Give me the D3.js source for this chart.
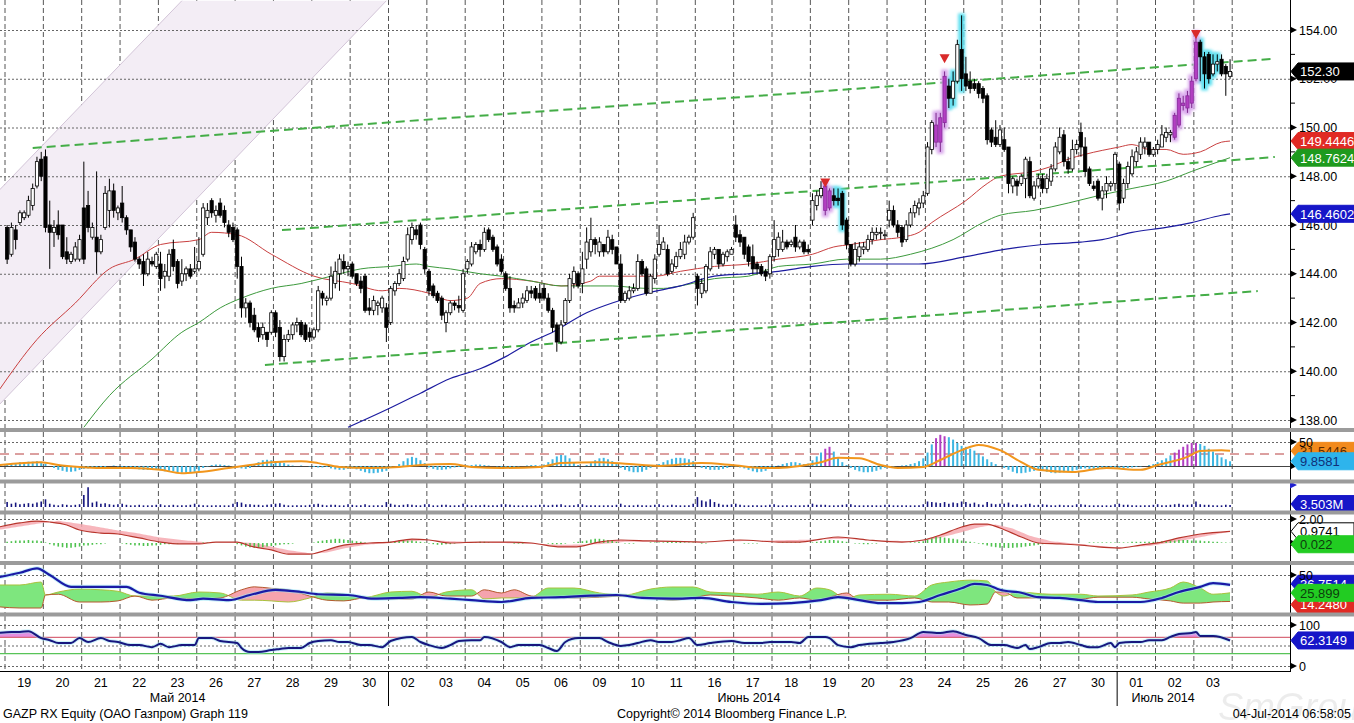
<!DOCTYPE html>
<html>
<head>
<meta charset="utf-8">
<script src="https://cdnjs.cloudflare.com/ajax/libs/d3/7.8.5/d3.min.js"></script>
<style>
  html, body { margin: 0; padding: 0; background: #fff; overflow: hidden; }
  svg { display: block; font-family: "Liberation Sans", Arial, sans-serif; }
</style>
</head>
<body>
<script>
// chart data ----------
const days = ["19","20","21","22","23","26","27","28","29","30",
  "02","03","04","05","06","09","10","11","16","17","18","19","20","23","24","25","26","27","30",
  "01","02","03"];
const monthNames = ["Май 2014", "Июнь 2014", "Июль 2014"];
const monthAt = [4.5, 19.4, 30.2]; // in trading days
const monthBreaks = [10, 29];

// intraday candles, 9 per day: [open, high, low, close]
const ohlc = [
  // May 19
  [145.9,146.0,144.4,144.6],[144.8,146.1,144.7,145.9],[145.8,146.0,145.0,145.4],[146.1,146.6,146.0,146.5],[146.3,146.6,146.2,146.5],[146.4,147.2,146.3,147.0],[146.8,147.7,146.6,147.5],[147.6,148.8,147.5,148.6],[148.7,149.0,147.8,148.0],
  // May 20
  [148.8,149.1,145.7,145.9],[146.0,147.0,144.2,145.7],[145.7,146.2,145.1,145.9],[146.0,146.6,145.4,145.6],[146.0,146.0,144.6,144.7],[144.9,145.5,144.4,144.6],[144.5,144.9,144.4,144.8],[144.6,145.3,144.5,145.1],[144.6,145.6,144.5,145.4],
  // May 21
  [146.7,148.6,144.4,144.6],[146.8,147.4,145.7,145.9],[145.5,146.1,145.4,145.9],[145.5,148.2,144.0,144.9],[144.9,145.6,144.8,145.4],[145.9,147.6,145.8,147.3],[146.6,147.9,145.9,147.4],[147.4,147.7,146.3,146.6],[146.5,146.8,146.2,146.7],
  // May 22
  [146.9,147.6,146.1,146.3],[146.3,146.4,145.6,145.8],[145.8,145.8,144.9,145.1],[145.3,145.5,144.5,144.6],[144.6,144.7,144.2,144.4],[144.5,144.8,143.5,144.0],[144.0,144.9,143.9,144.6],[144.5,144.7,144.3,144.4],[144.3,144.9,144.2,144.8],
  // May 23
  [144.4,144.9,143.3,143.8],[143.9,144.4,143.4,144.1],[143.9,145.0,143.7,144.8],[145.0,145.4,144.1,144.3],[144.5,144.6,143.4,143.6],[143.7,144.6,143.5,144.0],[144.0,144.3,143.7,144.2],[144.2,144.4,143.8,143.9],[144.1,145.1,144.0,144.2],
  // May 26
  [144.2,145.5,144.1,144.5],[144.8,146.9,144.7,146.7],[146.3,146.9,146.0,146.6],[147.0,147.1,146.3,146.5],[146.4,146.8,146.1,146.6],[146.9,147.1,146.3,146.4],[146.6,146.8,145.9,146.1],[146.0,146.2,145.5,145.7],[145.9,146.1,145.3,145.4],
  // May 27
  [145.8,145.9,143.8,144.3],[144.3,144.7,142.2,142.6],[142.6,143.0,142.2,142.8],[142.8,142.9,141.8,142.0],[142.3,142.6,141.6,141.7],[141.8,142.0,141.2,141.4],[141.5,142.0,141.3,141.8],[141.6,141.6,141.0,141.3],[141.6,142.5,141.5,142.4],
  // May 28
  [142.4,142.5,141.4,141.6],[141.8,142.1,140.4,140.6],[140.6,141.5,140.4,141.3],[141.3,141.7,141.2,141.5],[141.5,142.0,141.3,141.9],[141.9,142.2,141.6,142.0],[142.0,142.1,141.4,141.5],[141.9,142.0,141.2,141.3],[141.6,141.8,141.2,141.4],
  // May 29
  [141.4,141.8,141.3,141.7],[141.7,143.5,141.6,143.3],[143.2,143.3,142.7,143.0],[142.9,143.1,142.7,143.0],[143.0,144.3,142.9,143.9],[143.6,144.5,143.4,144.1],[144.0,144.8,143.3,144.6],[144.5,144.8,144.0,144.2],[144.2,144.5,143.9,144.3],
  // May 30
  [144.4,144.5,143.8,143.9],[144.0,144.0,143.5,143.6],[143.7,143.9,143.2,143.4],[143.9,144.0,142.4,142.5],[142.6,143.0,142.3,142.5],[142.5,143.1,142.3,142.9],[142.7,142.9,142.3,142.8],[142.6,143.1,142.4,143.0],[142.6,142.8,141.2,141.8],
  // Jun 02
  [142.0,143.5,141.9,143.4],[143.3,143.7,143.1,143.6],[143.6,144.2,143.5,144.0],[143.8,144.7,143.7,144.5],[144.6,145.9,144.5,145.6],[145.4,146.1,145.2,145.9],[145.8,146.0,145.4,145.6],[146.0,146.1,145.0,145.2],[145.0,145.1,144.0,144.2],
  // Jun 03
  [144.1,144.2,143.1,143.3],[143.5,143.6,143.0,143.1],[143.2,143.3,142.8,142.9],[143.0,143.1,142.1,142.3],[142.0,142.5,141.6,142.4],[142.4,142.9,142.3,142.8],[142.8,142.9,142.5,142.7],[142.7,143.1,142.4,142.6],[142.5,144.2,142.4,144.0],
  // Jun 04
  [144.2,144.6,144.0,144.5],[144.4,145.3,144.3,145.1],[144.9,145.3,144.8,145.2],[145.2,145.4,144.7,145.0],[145.0,145.9,144.9,145.7],[145.8,145.9,145.3,145.4],[145.5,145.6,144.9,145.0],[145.1,145.2,144.3,144.4],[144.6,144.8,144.0,144.1],
  // Jun 05
  [144.0,144.1,143.3,143.4],[143.4,143.9,142.4,142.6],[142.7,142.9,142.4,142.6],[142.6,143.0,142.6,142.8],[142.8,143.2,142.6,143.0],[142.9,143.5,142.8,143.3],[143.3,143.5,143.0,143.2],[143.4,143.5,142.9,143.0],[143.2,143.6,142.8,143.0],
  // Jun 06
  [143.4,143.6,142.9,143.0],[143.0,143.2,142.4,142.5],[142.5,142.6,141.6,141.8],[141.9,142.0,140.8,141.2],[141.2,142.1,141.1,141.9],[142.0,143.0,141.9,142.9],[142.9,144.0,142.8,143.8],[143.6,144.3,143.4,144.1],[144.0,144.1,143.4,143.5],
  // Jun 09
  [143.6,144.9,143.2,144.2],[144.6,145.9,144.2,145.3],[144.9,146.3,144.7,145.4],[145.4,145.5,144.8,145.2],[144.9,145.5,144.7,145.3],[145.2,145.2,144.7,144.9],[144.9,145.8,144.8,145.5],[145.4,145.6,144.8,145.0],[145.1,145.1,144.4,144.4],
  // Jun 10
  [144.4,144.8,142.8,142.9],[142.9,143.3,142.8,143.2],[143.0,143.5,142.9,143.3],[143.3,143.6,143.2,143.4],[143.4,144.8,143.3,144.5],[144.5,144.6,143.9,144.0],[144.2,144.3,143.1,143.2],[143.2,144.0,143.2,143.9],[143.8,144.8,143.6,144.6],
  // Jun 11
  [144.8,146.0,144.7,145.2],[145.0,145.5,145.0,145.3],[145.0,145.2,143.9,144.0],[144.1,144.6,144.0,144.4],[144.3,144.9,144.2,144.7],[144.7,145.3,144.6,145.0],[144.8,145.6,144.6,145.3],[145.3,145.6,145.2,145.5],[145.5,146.5,145.4,146.3],
  // Jun 16
  [143.9,144.0,142.7,143.4],[143.2,143.8,143.0,143.6],[143.3,144.4,143.2,144.3],[144.2,145.1,144.1,144.9],[144.8,145.1,144.6,145.0],[145.0,145.0,144.2,144.4],[144.4,144.9,144.3,144.8],[144.7,145.0,144.5,144.9],[144.8,145.1,144.8,145.0],
  // Jun 17
  [146.0,146.4,145.3,145.5],[145.6,145.8,145.1,145.3],[145.5,145.5,144.6,144.8],[145.1,145.2,144.3,144.5],[144.7,145.2,144.0,144.2],[144.4,144.5,144.0,144.2],[144.3,144.4,143.9,144.0],[144.1,144.2,143.7,143.9],[144.0,144.8,143.8,144.7],
  // Jun 18
  [144.7,146.2,144.5,145.4],[145.0,145.7,144.7,145.5],[145.0,145.8,144.9,145.3],[145.3,145.4,145.0,145.1],[145.2,145.4,145.1,145.3],[145.5,146.0,144.9,145.1],[145.1,145.4,145.0,145.3],[145.3,145.4,144.8,144.9],[145.0,145.2,144.8,144.9],
  // Jun 19
  [146.2,147.3,146.0,147.0],[146.8,147.4,146.6,147.2],[147.2,147.8,147.1,147.5],[147.6,147.7,146.4,146.6],[147.4,147.5,146.6,146.7],[147.2,147.5,146.8,147.0],[147.1,147.5,146.8,147.0],[147.3,147.4,145.8,146.0],[146.2,146.3,145.0,145.2],
  // Jun 20
  [145.2,145.2,144.3,144.4],[144.4,145.3,144.3,145.0],[144.7,145.3,144.5,145.1],[145.0,145.3,144.8,145.1],[145.0,145.6,144.9,145.4],[145.4,145.9,145.2,145.7],[145.6,145.9,145.4,145.7],[145.7,145.9,145.4,145.7],[145.6,145.8,145.4,145.6],
  // Jun 23
  [146.2,147.0,145.9,146.6],[146.6,146.8,145.9,146.0],[146.0,146.2,145.5,145.7],[145.9,146.0,145.1,145.3],[145.4,146.2,145.3,146.0],[146.0,146.7,145.9,146.5],[146.5,147.0,146.3,146.8],[146.7,147.1,146.4,146.9],[146.9,147.4,146.7,147.2],
  // Jun 24
  [147.3,149.4,147.2,149.2],[149.1,150.3,148.9,150.2],[150.1,150.6,149.2,149.4],[149.4,150.6,149.0,150.4],[150.2,152.3,150.0,152.1],[151.7,152.0,150.8,151.2],[151.2,152.3,150.9,151.9],[151.9,153.6,151.8,153.4],[153.2,154.6,151.5,152.0],
  // Jun 25
  [152.2,152.9,151.5,151.7],[151.9,152.3,151.4,151.6],[151.8,152.0,151.5,151.6],[151.8,151.9,151.2,151.4],[151.6,151.7,151.0,151.2],[151.3,151.4,149.3,149.5],[149.9,150.0,149.2,149.4],[149.6,150.3,149.2,149.3],[149.3,150.1,149.2,149.9],
  // Jun 26
  [149.5,150.0,149.0,149.1],[149.2,149.2,147.3,147.7],[147.6,148.0,147.3,147.9],[147.8,147.9,147.2,147.6],[147.7,148.1,147.6,148.0],[147.9,148.8,147.1,148.7],[148.6,148.8,147.1,147.2],[147.1,147.8,147.0,147.6],[147.6,148.1,147.5,147.9],
  // Jun 27
  [147.9,148.1,147.3,147.5],[147.5,148.1,147.3,147.9],[147.8,148.5,147.6,148.3],[148.3,149.4,148.2,149.2],[149.0,150.0,148.9,149.6],[149.7,149.9,148.4,148.6],[148.6,148.8,148.1,148.3],[148.3,149.5,148.2,149.1],[149.1,149.5,148.9,149.3],
  // Jun 30
  [149.8,150.2,148.8,149.2],[149.2,149.6,148.0,148.2],[148.3,148.4,147.6,147.7],[147.6,147.8,147.4,147.5],[147.8,147.9,147.0,147.1],[147.1,147.6,146.6,147.4],[147.4,148.0,147.1,147.7],[147.6,147.8,147.4,147.7],[147.7,149.0,147.4,148.9],
  // Jul 01
  [148.5,148.6,146.6,146.9],[147.1,147.9,146.9,147.7],[147.7,148.6,147.5,148.4],[148.1,149.1,148.0,148.8],[148.6,149.2,148.4,149.0],[148.9,149.6,148.7,149.4],[149.2,149.6,148.9,149.4],[149.4,149.4,148.8,148.9],[148.9,149.2,148.8,149.1],
  // Jul 02
  [149.1,149.5,148.9,149.3],[149.2,150.1,149.2,149.7],[149.6,150.0,149.4,149.8],[149.7,149.9,149.4,149.8],[149.6,150.6,149.5,150.5],[150.1,151.4,150.0,151.2],[151.0,151.3,150.7,150.9],[150.8,151.5,150.6,151.3],[151.0,152.1,150.8,151.9],
  // Jul 03
  [152.0,153.9,151.9,153.5],[153.5,153.6,151.9,152.9],[152.9,153.1,151.6,152.2],[153.0,153.1,151.8,152.0],[152.2,153.0,152.1,152.6],[152.6,153.0,152.3,152.7],[152.8,153.0,152.1,152.2],[152.5,152.6,151.3,152.2],[152.1,152.8,152.0,152.3],
];

// highlighted candles (candle index)
const magentaBars = [192, 193, 218, 219, 220, 274, 275, 276, 277, 278, 279];
const cyanBars = [194, 195, 196, 221, 222, 224, 280, 281, 282, 283, 284];
const signalMarks = [[192, 147.7], [220, 152.8], [279, 153.8]];

// moving averages: [candle index, price]
const maRed = [[-2,139.2],[7,141.3],[16,142.8],[24,144.2],[30,144.6],[36,145.2],[45,145.4],[48,145.7],[54,145.6],[62,144.8],[72,143.9],[81,143.6],[88,143.3],[92,143.4],[99,143.2],[104,142.9],[108,143.0],[111,143.6],[116,143.8],[123,143.7],[130,143.5],[137,143.7],[139,143.9],[144,143.9],[152,143.9],[158,144.1],[166,144.3],[174,144.4],[181,144.6],[189,144.8],[194,145.1],[198,145.2],[205,145.4],[210,145.5],[214,145.7],[217,146.1],[225,147.0],[230,147.7],[233,148.0],[241,148.2],[245,148.4],[249,148.7],[253,148.9],[261,149.2],[264,149.3],[268,149.1],[272,149.1],[276,148.9],[280,149.0],[285,149.4],[287,149.4446]];
const maGreen = [[18,137.7],[24,139.0],[34,140.5],[41,141.6],[45,142.0],[50,142.6],[55,143.0],[62,143.4],[69,143.6],[76,143.9],[83,144.2],[90,144.3],[96,144.4],[99,144.3],[104,144.2],[111,144.0],[116,143.9],[123,143.7],[130,143.5],[137,143.5],[142,143.5],[150,143.4],[154,143.4],[158,143.5],[166,143.8],[174,143.9],[181,144.3],[189,144.4],[197,144.6],[205,144.6],[212,144.8],[222,145.4],[229,146.1],[233,146.4],[241,146.6],[249,146.9],[256,147.2],[264,147.5],[272,147.8],[278,148.2],[287,148.7624]];
const maBlue = [[80,137.7],[90,138.5],[97,139.1],[104,139.7],[111,140.1],[117,140.6],[123,141.2],[128,141.6],[136,142.4],[142,142.8],[150,143.2],[158,143.5],[166,143.9],[174,144.0],[181,144.1],[189,144.3],[197,144.4],[205,144.4],[214,144.4],[225,144.7],[234,145.0],[243,145.2],[252,145.3],[257,145.4],[264,145.7],[272,145.9],[278,146.1],[285,146.4],[287,146.4602]];

// drawn trend lines and channel: [candle index, price]
const trendLines = [
  [[6, 149.16], [296.5, 152.81]],
  [[64.5, 145.79], [297.5, 148.79]],
  [[60.5, 140.26], [293.5, 143.29]],
];
const channelLines = [
  [[-2, 147.4], [41, 155.2]],
  [[-2, 138.6], [89, 155.2]],
];

// oscillator histogram (per candle) and its average
const oscHist = [
  4,6,6,8,8,9,9,10,8,  5,0,-4,-8,-10,-12,-12,-11,-8,  -6,-5,-3,-6,-4,-2,0,1,-1,  -2,-3,-4,-6,-7,-8,-8,-7,-7,
  -9,-11,-10,-11,-13,-14,-14,-13,-12,  -10,-4,-1,2,3,3,2,1,-1,  -3,-5,-6,-4,2,8,12,13,12,  10,8,6,3,1,0,1,0,-1,
  -2,-3,-3,-2,-5,-7,-8,-8,-6,  -5,-7,-10,-13,-15,-15,-14,-12,-10,  -4,0,4,10,16,19,17,12,6,  -3,-6,-8,-8,-7,-5,-3,-2,0,
  1,2,3,3,2,1,0,-1,-2,  -2,-3,-2,-1,0,1,2,2,1,  3,8,14,20,23,22,16,8,2,  0,2,6,12,16,17,14,10,4,
  -4,-8,-11,-13,-13,-12,-8,-4,0,  4,8,12,15,17,17,16,14,10,  0,-4,-6,-8,-8,-8,-6,-4,-1,  -1,-3,-5,-8,-11,-13,-12,-10,-6,
  -2,1,4,6,8,8,6,4,5,  12,20,28,36,40,30,18,8,2,  -4,-8,-11,-13,-13,-12,-10,-7,-4,  -2,-1,0,1,2,4,6,10,16,
  28,45,58,65,62,60,55,48,42,  40,36,32,26,20,14,8,4,0,  -4,-8,-12,-15,-15,-14,-12,-10,-8,  -10,-12,-14,-15,-14,-13,-12,-10,-8,
  -6,-5,-6,-7,-7,-6,-5,-4,-3,  -4,-5,-4,-3,-2,-1,0,2,4,  8,12,16,22,28,34,40,45,48,  48,46,42,36,30,24,18,14,9.86,
];
const oscLine = [[-2,2],[8,8],[12,2],[17,-2],[22,-4],[29,-4],[36,-8],[41,-15],[45,-12.5],[52,-4],[57,2],[62,8],[69,10],[73,6],[78,-2],[85,-4],[92,-2],[97,2],[104,4],[109,-2],[116,-4],[125,-2],[130,6],[139,8],[146,4],[153,0],[163,6],[170,2],[177,-4],[181,-4],[186,0],[191,8],[195,17],[200,16],[205,2],[209,-4],[215,-2],[219,12.5],[224,33],[228,44],[233,33],[238,8],[242,-8],[250,-12.5],[258,-4],[266,-8],[270,2],[277,19],[280,31],[285,33],[287,31.54]];

// volume, millions per candle
const volume = [
  9,6,8,5,6,7,6,8,10,  14,6,4,3,5,4,3,4,5,  22,36,8,10,6,7,5,4,5,  6,4,3,3,4,3,3,3,4,
  5,3,3,4,3,3,3,4,6,  4,3,3,3,3,3,3,3,6,  9,8,5,5,4,4,3,4,5,  6,7,4,3,3,3,3,3,4,
  5,6,4,3,4,4,3,3,5,  4,3,3,5,3,3,3,3,9,  6,4,3,4,5,4,3,3,5,  5,3,3,4,4,3,3,3,6,
  4,3,3,3,4,3,3,3,5,  5,4,3,3,3,3,3,3,4,  4,3,4,4,5,3,3,3,5,  5,3,3,3,3,3,3,3,4,
  6,3,3,3,4,3,3,3,4,  5,3,3,4,3,3,3,3,6,  18,12,10,14,9,6,4,4,5,  6,4,3,3,3,3,3,3,4,
  5,3,3,3,3,3,3,3,4,  6,4,4,4,3,3,3,4,5,  5,3,3,3,3,3,3,3,4,  4,3,3,3,3,3,3,3,5,
  10,9,8,7,9,6,8,7,10,  9,6,8,5,4,9,6,5,6,  6,8,4,5,3,5,6,3,4,  5,4,3,3,4,3,3,3,5,
  5,4,3,3,3,3,3,3,5,  6,4,4,3,3,3,3,3,4,  5,3,3,4,5,6,4,4,5,  10,5,4,4,3,3,3,4,3.503,
];

// MACD-style panel
const macdLine = [[-2,1.33],[3,1.67],[7,1.83],[10,1.75],[14,1.5],[17,1.08],[22,0.83],[26,0.75],[31,0.42],[36,0.08],[41,-0.08],[45,-0.08],[49,0.08],[54,0.08],[57,-0.25],[62,-0.58],[66,-0.92],[71,-0.92],[75,-0.58],[79,-0.17],[85,0],[90,0.08],[95,0.33],[99,0.25],[104,0],[111,0.08],[118,0.08],[123,0],[130,-0.33],[133,-0.33],[139,0.08],[144,0.25],[151,0.17],[163,0.08],[172,0.25],[181,0.08],[186,0.08],[191,0.33],[195,0.5],[202,0.25],[210,0.08],[215,0.25],[219,0.67],[224,1.33],[227,1.58],[230,1.58],[233,1.25],[238,0.5],[242,0],[247,-0.08],[252,-0.17],[256,-0.33],[261,-0.42],[266,-0.17],[271,0.08],[275,0.42],[280,0.75],[287,0.9741]];
const macdSignal = [[-2,1.1],[7,1.6],[12,1.85],[17,1.6],[22,1.3],[26,1.05],[30,0.85],[36,0.45],[45,0.1],[50,0.05],[55,0.05],[58,0],[62,-0.3],[66,-0.6],[71,-0.85],[75,-0.8],[79,-0.45],[84,-0.15],[90,0],[95,0.15],[99,0.25],[104,0.15],[112,0.05],[130,-0.15],[139,-0.1],[145,0.1],[165,0.1],[197,0.35],[205,0.2],[214,0.15],[218,0.35],[224,0.9],[228,1.3],[232,1.55],[236,1.2],[240,0.6],[245,0.15],[252,-0.1],[260,-0.35],[268,-0.25],[275,0.15],[281,0.55],[287,0.95]];
const macdHist = [
  0.1,0.15,0.2,0.2,0.2,0.25,0.2,0.2,0.15,  0.05,-0.1,-0.2,-0.3,-0.35,-0.4,-0.4,-0.35,-0.3,  -0.2,-0.2,-0.15,-0.1,-0.1,-0.05,0,0,0,  -0.05,-0.1,-0.15,-0.2,-0.2,-0.25,-0.25,-0.2,-0.2,
  -0.15,-0.1,-0.1,-0.05,-0.05,0,0,0,0,  0,0.05,0.05,0.05,0,0,0,0,0,  -0.1,-0.2,-0.3,-0.35,-0.4,-0.4,-0.35,-0.3,-0.25,  -0.2,-0.15,-0.1,-0.1,-0.05,0,0,0,0,
  0.05,0.15,0.2,0.25,0.3,0.35,0.35,0.3,0.25,  0.2,0.15,0.1,0.05,0,0,0,0,0.05,  0.1,0.15,0.2,0.25,0.2,0.2,0.15,0.1,0.05,  -0.05,-0.1,-0.15,-0.15,-0.1,-0.1,-0.05,0,0,
  0,0.05,0.05,0.1,0.1,0.05,0,0,0,  0,0,-0.05,-0.05,-0.05,0,0,0,0,  0,-0.05,-0.1,-0.1,-0.1,-0.05,0,0.05,0.1,  0.15,0.2,0.3,0.35,0.35,0.3,0.25,0.2,0.1,
  0,-0.05,-0.05,-0.05,0,0,0,0.05,0.05,  0.05,0.05,0.1,0.1,0.1,0.1,0.05,0.05,0.05,  0,-0.05,-0.05,0,0,0,0,0,0,  0,0,-0.05,-0.05,-0.05,-0.05,0,0,0,
  0,0,0.05,0.05,0.05,0.05,0.05,0,0,  0.05,0.1,0.15,0.2,0.25,0.25,0.2,0.15,0.1,  0,-0.05,-0.05,-0.1,-0.1,-0.05,-0.05,0,0,  0,0,0,0,0,0.05,0.05,0.1,0.15,
  0.3,0.4,0.5,0.5,0.45,0.4,0.35,0.3,0.2,  0.15,0.1,0.05,-0.05,-0.1,-0.2,-0.3,-0.35,-0.4,  -0.4,-0.42,-0.4,-0.38,-0.35,-0.3,-0.25,-0.2,-0.15,  -0.1,-0.05,0,0,0,0,0,0,0,
  0,0,0.05,0.05,0.05,0.05,0.05,0.05,0.05,  0.05,0.05,0.05,0.1,0.1,0.1,0.1,0.1,0.1,  0.1,0.15,0.15,0.2,0.2,0.25,0.25,0.25,0.2,  0.2,0.2,0.15,0.15,0.1,0.1,0.05,0.05,0.022,
];

// directional movement: ADX and [index, DI+, DI-]
const adx = [[-2,47],[3,53],[7,59],[10,50],[15,34],[22,34],[28,34],[31,26],[36,22],[43,16],[46,18],[52,16],[57,23],[63,30],[69,27],[73,24],[80,23],[86,18],[92,19],[97,20],[104,18],[109,16],[116,13.5],[123,19],[130,20],[137,22],[143,23],[149,19],[156,18],[163,19],[170,13.5],[177,11],[184,12],[191,16],[195,20],[200,16],[205,12],[210,12],[214,13.5],[219,23],[224,32],[227,38],[230,36.5],[233,30],[238,26],[242,20],[247,19],[252,16],[256,13.5],[261,13.5],[266,13.5],[271,19],[275,27],[280,34],[283,39],[287,36.7514]];
const diLines = [[-2,36.5,7],[3,36.5,5.4],[8,40.5,5.4],[9,23,23],[12,27,24],[17,31,13.5],[22,30,13.5],[26,28,15],[30,21.6,21.6],[34,21.6,16],[39,21.6,19],[45,27,17.6],[50,25.7,19],[55,16,30],[58,16,34],[62,15,32],[66,13.5,30],[71,19,21.6],[75,25.7,16],[79,24,15],[84,20,19],[90,27,17.6],[95,28,17.6],[99,20,27],[103,27,21.6],[109,30,21.6],[112,17.6,30],[116,19,25.7],[119,19,30],[123,20,21.6],[127,32.4,20],[133,32.4,19],[139,25.7,20],[145,23,21.6],[151,31,19],[156,33.8,16],[161,33.8,19],[165,27,23],[170,25.7,21.6],[176,24,19],[181,27,16],[186,21.6,19],[190,32.4,16],[193,30,20],[197,17.6,25.7],[200,23,16],[207,24,16],[213,21.6,19],[217,36.5,13.5],[221,40.5,13.5],[226,43,9.5],[230,42,10.8],[232,27,27],[234,21.6,27],[237,27,19],[245,24,19],[252,24,17.6],[256,21.6,20],[264,23,20],[268,27,17.6],[273,32.4,15],[276,40.5,12],[280,32.4,12],[283,24,13.5],[287,25.899,14.248]];

// RSI
const rsi = [[-2,80.5],[1,83],[3,83],[5,85],[8,68],[10,63],[12,56],[15,56],[17,68],[19,58.5],[22,68],[24,61],[26,58.5],[29,51],[31,51],[34,46],[36,54],[38,46],[41,51],[44,51],[45,68],[48,68],[50,61],[54,56],[55,44],[57,34],[59,34],[62,39],[64,41.5],[66,44],[69,44],[71,56],[73,61],[76,63],[78,58.5],[80,58.5],[83,51],[85,51],[88,46],[90,61],[95,71],[97,58.5],[99,51],[102,44],[104,51],[106,61],[109,63],[111,63],[112,71],[116,58.5],[118,46],[120,51],[125,51],[127,44],[129,36.5],[131,58.5],[134,68],[139,68],[141,58.5],[144,49],[146,51],[148,56],[151,63],[153,58.5],[156,58.5],[158,63],[160,68],[162,51],[165,56],[170,61],[173,56],[177,56],[179,58.5],[184,58.5],[186,56],[188,71],[192,71],[193,68],[195,51],[198,46],[200,51],[205,56],[208,58.5],[212,68],[215,83],[219,80.5],[222,85],[225,75.6],[228,68],[231,51],[234,51],[237,44],[239,51],[240,41.5],[242,46],[245,56],[247,56],[249,58.5],[252,51],[254,46],[256,46],[259,56],[260,46],[261,56],[264,58.5],[266,58.5],[268,63],[271,63],[273,71],[275,78],[278,80.5],[279,83],[280,73],[283,73],[287,62.3149]];

// last values shown on the right
const priceLast = ["152.30", "149.4446", "148.7624", "146.4602"];
const oscLast = ["31.5446", "9.8581"];
const volLast = "3.503M";
const macdLast = ["0.9741", "0.022"];
const dmiLast = ["36.7514", "14.2480", "25.899"];
const rsiLast = "62.3149";
const footer = ["GAZP RX Equity (ОАО Газпром) Graph 119", "Copyright© 2014 Bloomberg Finance L.P.", "04-Jul-2014 06:58:05"];
// ----------

const W = 1354;
const H = 723;
const axisX = 1290;
const n = ohlc.length;

const x = d3.scaleLinear().domain([-0.5, n - 0.5]).range([5, 5 + 38.35 * days.length]);
const dayX = (k) => x(k * 9 - 0.5);
const monthX = (d) => 5 + 38.35 * d;

const panels = {
  price: { top: 0, bottom: 428, y: d3.scaleLinear().domain([138, 154]).range([420, 30]) },
  osc: { top: 432, bottom: 480, y: d3.scaleLinear().domain([0, 50]).range([466, 442]) },
  vol: { top: 483, bottom: 511, y: d3.scaleLinear().domain([0, 40]).range([507, 485]) },
  macd: { top: 514, bottom: 562, y: d3.scaleLinear().domain([0, 2]).range([543, 519]) },
  dmi: { top: 564, bottom: 613, y: d3.scaleLinear().domain([0, 50]).range([612, 575]) },
  rsi: { top: 616, bottom: 671, y: d3.scaleLinear().domain([0, 100]).range([666, 625]) },
};
const separators = [428, 479.5, 510.5, 561, 612.5];

const svg = d3.select("body").append("svg").attr("width", W).attr("height", H);
svg.append("rect").attr("width", W).attr("height", H).attr("fill", "#fff");
const defs = svg.append("defs");

Object.entries(panels).forEach(([key, p]) => {
  defs.append("clipPath").attr("id", `clip-${key}`)
    .append("rect").attr("x", 0).attr("y", p.top).attr("width", axisX).attr("height", p.bottom - p.top);
});
const glow = defs.append("filter").attr("id", "glow")
  .attr("x", "-150%").attr("y", "-30%").attr("width", "400%").attr("height", "160%");
glow.append("feGaussianBlur").attr("stdDeviation", 1.4);

// piecewise sampler for the smooth series
const sampler = (pairs, k = 1) => d3.scaleLinear()
  .domain(pairs.map((d) => d[0])).range(pairs.map((d) => d[k])).clamp(true);
const lineOf = (y, k = 1) => d3.line().x((d) => x(d[0])).y((d) => y(d[k])).curve(d3.curveMonotoneX);

// grid for each panel
const gridG = svg.append("g");
Object.entries(panels).forEach(([key, p]) => {
  const g = gridG.append("g").attr("clip-path", `url(#clip-${key})`);
  g.selectAll("line.v").data(d3.range(0, days.length + 1)).join("line")
    .attr("x1", (k) => dayX(k)).attr("x2", (k) => dayX(k))
    .attr("y1", p.top).attr("y2", p.bottom)
    .attr("stroke", "#555").attr("stroke-width", 1).attr("stroke-dasharray", "5,3");
});
// ----------

// price panel
const py = panels.price.y;
const pg = svg.append("g").attr("clip-path", "url(#clip-price)");

const [cu, cl] = channelLines;
pg.append("path")
  .attr("d", `M${x(cu[0][0])},${py(cu[0][1])}L${x(cu[1][0])},${py(cu[1][1])}L${x(cl[1][0])},${py(cl[1][1])}L${x(cl[0][0])},${py(cl[0][1])}Z`)
  .attr("fill", "#f3edf5");
pg.selectAll("line.chan").data(channelLines).join("line")
  .attr("x1", (d) => x(d[0][0])).attr("y1", (d) => py(d[0][1]))
  .attr("x2", (d) => x(d[1][0])).attr("y2", (d) => py(d[1][1]))
  .attr("stroke", "#d2c4d7").attr("stroke-width", 1);

pg.selectAll("line.h").data(d3.range(138, 155, 2)).join("line")
  .attr("x1", 0).attr("x2", axisX).attr("y1", (d) => py(d) + 0.5).attr("y2", (d) => py(d) + 0.5)
  .attr("stroke", "#666").attr("stroke-dasharray", "2,2");

// moving averages
[[maRed, "#c94040", 1], [maGreen, "#3d9a3d", 1], [maBlue, "#1c1ca0", 1.2]].forEach(([d, c, w]) => {
  pg.append("path").datum(d).attr("d", lineOf(py)).attr("fill", "none").attr("stroke", c).attr("stroke-width", w);
});

// trend lines
pg.selectAll("line.trend").data(trendLines).join("line")
  .attr("x1", (d) => x(d[0][0])).attr("y1", (d) => py(d[0][1]))
  .attr("x2", (d) => x(d[1][0])).attr("y2", (d) => py(d[1][1]))
  .attr("stroke", "#44ad47").attr("stroke-width", 2).attr("stroke-dasharray", "9,5");

// candles
const magentaSet = new Set(magentaBars);
pg.selectAll("rect.cglow").data(cyanBars).join("rect")
  .attr("x", (i) => x(i) - 3.5).attr("width", 7)
  .attr("y", (i) => py(ohlc[i][1]) - 2)
  .attr("height", (i) => py(ohlc[i][2]) - py(ohlc[i][1]) + 4)
  .attr("fill", "#5fe0f0").attr("filter", "url(#glow)");
pg.selectAll("rect.mglow").data(magentaBars).join("rect")
  .attr("x", (i) => x(i) - 3.5).attr("width", 7)
  .attr("y", (i) => py(ohlc[i][1]) - 2)
  .attr("height", (i) => py(ohlc[i][2]) - py(ohlc[i][1]) + 4)
  .attr("fill", "#d9a8ec").attr("filter", "url(#glow)");

const candles = pg.selectAll("g.candle").data(ohlc).join("g").attr("class", "candle");
candles.append("line")
  .attr("x1", (d, i) => x(i)).attr("x2", (d, i) => x(i))
  .attr("y1", (d) => py(d[1])).attr("y2", (d) => py(d[2]))
  .attr("stroke", (d, i) => (magentaSet.has(i) ? "#7d2a8c" : "#000")).attr("stroke-width", 1);
candles.append("rect")
  .attr("x", (d, i) => x(i) - 1.6).attr("width", 3.2)
  .attr("y", (d) => py(Math.max(d[0], d[3])))
  .attr("height", (d) => Math.max(1, Math.abs(py(d[0]) - py(d[3]))))
  .attr("fill", (d, i) => (magentaSet.has(i) ? "#b23fc2" : d[3] >= d[0] ? "#fff" : "#000"))
  .attr("stroke", (d, i) => (magentaSet.has(i) ? "#8a2a9c" : "#000")).attr("stroke-width", 0.8);

pg.selectAll("path.mark").data(signalMarks).join("path")
  .attr("d", (d) => { const cx = x(d[0]), cy = py(d[1]); return `M${cx - 5},${cy - 5}L${cx + 5},${cy - 5}L${cx},${cy + 4}Z`; })
  .attr("fill", "#d92a2a");
// ----------

// oscillator panel
const op = panels.osc;
const og = svg.append("g").attr("clip-path", "url(#clip-osc)");
og.append("line").attr("x1", 0).attr("x2", axisX).attr("y1", op.y(50) + 0.5).attr("y2", op.y(50) + 0.5)
  .attr("stroke", "#666").attr("stroke-dasharray", "2,2");
og.append("line").attr("x1", 0).attr("x2", axisX).attr("y1", op.y(25)).attr("y2", op.y(25))
  .attr("stroke", "#b84040").attr("stroke-dasharray", "9,6");
og.append("line").attr("x1", 0).attr("x2", axisX).attr("y1", op.y(0) + 0.5).attr("y2", op.y(0) + 0.5)
  .attr("stroke", "#444");
og.selectAll("line.bar").data(oscHist).join("line")
  .attr("x1", (d, i) => x(i)).attr("x2", (d, i) => x(i))
  .attr("y1", op.y(0)).attr("y2", (d) => op.y(d))
  .attr("stroke", (d, i) => (magentaSet.has(i) ? "#b23fc2" : "#3cb6e2")).attr("stroke-width", 2);
og.append("path").datum(oscLine).attr("d", lineOf(op.y)).attr("fill", "none")
  .attr("stroke", "#f2961c").attr("stroke-width", 2);
// ----------

// volume panel
const vp = panels.vol;
const vg = svg.append("g").attr("clip-path", "url(#clip-vol)");
vg.selectAll("line.bar").data(volume).join("line")
  .attr("x1", (d, i) => x(i)).attr("x2", (d, i) => x(i))
  .attr("y1", vp.y(0)).attr("y2", (d) => vp.y(d))
  .attr("stroke", "#15157e").attr("stroke-width", 1.6);
// ----------

// macd panel
const mp = panels.macd;
const mg = svg.append("g").attr("clip-path", "url(#clip-macd)");
mg.append("line").attr("x1", 0).attr("x2", axisX).attr("y1", mp.y(2) + 0.5).attr("y2", mp.y(2) + 0.5)
  .attr("stroke", "#666").attr("stroke-dasharray", "2,2");
const macdS = sampler(macdLine);
const sigS = sampler(macdSignal);
const dense = d3.range(-2, n - 0.5, 0.5);
mg.append("path").datum(dense)
  .attr("d", d3.area().x((i) => x(i)).y0((i) => mp.y(sigS(i))).y1((i) => mp.y(macdS(i))))
  .attr("fill", "#f6a9b0").attr("opacity", 0.85);
mg.selectAll("line.bar").data(macdHist).join("line")
  .attr("x1", (d, i) => x(i)).attr("x2", (d, i) => x(i))
  .attr("y1", mp.y(0)).attr("y2", (d) => mp.y(d))
  .attr("stroke", "#4fc24f").attr("stroke-width", 1.6);
mg.append("path").datum(macdLine).attr("d", lineOf(mp.y)).attr("fill", "none")
  .attr("stroke", "#b8352c").attr("stroke-width", 1.2);
// ----------

// dmi panel
const dp = panels.dmi;
const dg = svg.append("g").attr("clip-path", "url(#clip-dmi)");
dg.append("line").attr("x1", 0).attr("x2", axisX).attr("y1", dp.y(50) + 0.5).attr("y2", dp.y(50) + 0.5)
  .attr("stroke", "#666").attr("stroke-dasharray", "2,2");
const curve = d3.curveMonotoneX;
defs.append("clipPath").attr("id", "di-below").append("path")
  .attr("d", d3.area().curve(curve).x((d) => x(d[0])).y0(dp.bottom).y1((d) => dp.y(d[1]))(diLines));
defs.append("clipPath").attr("id", "di-above").append("path")
  .attr("d", d3.area().curve(curve).x((d) => x(d[0])).y0(dp.top).y1((d) => dp.y(d[1]))(diLines));
dg.append("path").attr("clip-path", "url(#di-below)")
  .attr("d", d3.area().curve(curve).x((d) => x(d[0])).y0(dp.top).y1((d) => dp.y(d[2]))(diLines))
  .attr("fill", "#7ee67e");
dg.append("path").attr("clip-path", "url(#di-above)")
  .attr("d", d3.area().curve(curve).x((d) => x(d[0])).y0(dp.bottom).y1((d) => dp.y(d[2]))(diLines))
  .attr("fill", "#f5a3ad");
dg.append("path").datum(diLines).attr("d", lineOf(dp.y, 1)).attr("fill", "none")
  .attr("stroke", "#a9c23c").attr("stroke-width", 1);
dg.append("path").datum(diLines).attr("d", lineOf(dp.y, 2)).attr("fill", "none")
  .attr("stroke", "#b5592e").attr("stroke-width", 1);
dg.append("path").datum(adx).attr("d", lineOf(dp.y)).attr("fill", "none")
  .attr("stroke", "#9ee6f5").attr("stroke-width", 4).attr("opacity", 0.6);
dg.append("path").datum(adx).attr("d", lineOf(dp.y)).attr("fill", "none")
  .attr("stroke", "#1a1aa6").attr("stroke-width", 2.2);
// ----------

// rsi panel
const rp = panels.rsi;
const rg = svg.append("g").attr("clip-path", "url(#clip-rsi)");
rg.selectAll("line.h").data([100, 50, 0]).join("line")
  .attr("x1", 0).attr("x2", axisX).attr("y1", (d) => rp.y(d) + 0.5).attr("y2", (d) => rp.y(d) + 0.5)
  .attr("stroke", "#666").attr("stroke-dasharray", "2,2");
defs.append("clipPath").attr("id", "rsi-hi").append("rect")
  .attr("x", 0).attr("y", rp.top).attr("width", axisX).attr("height", rp.y(70) - rp.top);
rg.append("path").attr("clip-path", "url(#rsi-hi)").datum(rsi)
  .attr("d", d3.area().curve(curve).x((d) => x(d[0])).y0(rp.y(70)).y1((d) => rp.y(d[1])))
  .attr("fill", "#e58ee0");
rg.append("line").attr("x1", 0).attr("x2", axisX).attr("y1", rp.y(70)).attr("y2", rp.y(70))
  .attr("stroke", "#d0485a").attr("stroke-width", 1);
rg.append("line").attr("x1", 0).attr("x2", axisX).attr("y1", rp.y(30)).attr("y2", rp.y(30))
  .attr("stroke", "#58c458").attr("stroke-width", 1.2);
rg.append("path").datum(rsi).attr("d", lineOf(rp.y)).attr("fill", "none")
  .attr("stroke", "#9ee6f5").attr("stroke-width", 4).attr("opacity", 0.5);
rg.append("path").datum(rsi).attr("d", lineOf(rp.y)).attr("fill", "none")
  .attr("stroke", "#17177f").attr("stroke-width", 2);
// ----------

// right axis
const ax = svg.append("g");
ax.append("line").attr("x1", axisX + 0.5).attr("x2", axisX + 0.5).attr("y1", 0).attr("y2", 672)
  .attr("stroke", "#000");
const tri = (g, y, fill = "#000") => g.append("path")
  .attr("d", `M${axisX},${y - 3.5}L${axisX + 7},${y}L${axisX},${y + 3.5}Z`).attr("fill", fill);
const label = (g, y, t) => g.append("text").attr("x", axisX + 9).attr("y", y + 4.5)
  .attr("font-size", 12.5).attr("fill", "#000").text(t);

d3.range(139, 155, 2).forEach((v) => {
  ax.append("line").attr("x1", axisX).attr("x2", axisX + 5).attr("y1", py(v)).attr("y2", py(v)).attr("stroke", "#000");
});
d3.range(138, 155, 2).forEach((v) => { tri(ax, py(v)); label(ax, py(v), v.toFixed(2)); });

const tag = (y, t, bg, fg, stroke) => {
  ax.append("path")
    .attr("d", `M${axisX + 1},${y}L${axisX + 8},${y - 8.5}L${W},${y - 8.5}L${W},${y + 8.5}L${axisX + 8},${y + 8.5}Z`)
    .attr("fill", bg).attr("stroke", stroke || bg).attr("stroke-width", 1);
  ax.append("text").attr("x", axisX + 10).attr("y", y + 5)
    .attr("font-size", 13).attr("fill", fg).text(t);
};
tag(py(+priceLast[0]), priceLast[0], "#000", "#fff");
tag(py(+priceLast[1]), priceLast[1], "#e12a24", "#fff");
tag(py(+priceLast[2]), priceLast[2], "#1e9a1e", "#fff");
tag(py(+priceLast[3]), priceLast[3], "#1616c8", "#fff");

// lower panel axes
tri(ax, op.y(50)); tri(ax, op.y(0));
tag(op.y(+oscLast[0]), oscLast[0], "#f28a1c", "#5a2a00");
tag(op.y(+oscLast[1]), oscLast[1], "#2eb4ec", "#10307a");
label(ax, op.y(50), "50");

tri(ax, vp.y(40), "#2020d0");
tag(vp.y(parseFloat(volLast)) - 1, volLast, "#1616c8", "#fff");

tri(ax, mp.y(2)); tri(ax, mp.y(0));
tag(mp.y(+macdLast[0]), macdLast[0], "#fff", "#000", "#000");
tag(mp.y(+macdLast[1]) + 1.5, macdLast[1], "#22cc22", "#0d3d0d");
label(ax, mp.y(2), "2.00");

tri(ax, dp.y(50));
tag(dp.y(+dmiLast[0]) - 1, dmiLast[0], "#1616c8", "#fff");
tag(dp.y(+dmiLast[1]) + 3, dmiLast[1], "#e12a24", "#fff");
tag(dp.y(+dmiLast[2]), dmiLast[2], "#22cc22", "#0d3d0d");
label(ax, dp.y(50), "50");

tri(ax, rp.y(100)); tri(ax, rp.y(0));
label(ax, rp.y(100), "100");
tag(rp.y(+rsiLast), rsiLast, "#1616c8", "#fff");
label(ax, rp.y(0), "0");

// panel separators
svg.selectAll("rect.sep").data(separators).join("rect")
  .attr("x", 0).attr("width", W).attr("y", (d) => d).attr("height", 4).attr("fill", "#9b9b9b");
// ----------

// time axis
const tx = svg.append("g");
tx.append("line").attr("x1", 0).attr("x2", axisX + 1).attr("y1", 671.5).attr("y2", 671.5).attr("stroke", "#000");
tx.selectAll("line.mb").data(monthBreaks).join("line")
  .attr("x1", (k) => dayX(k)).attr("x2", (k) => dayX(k)).attr("y1", 671).attr("y2", 706)
  .attr("stroke", "#000");
tx.selectAll("text.day").data(days).join("text")
  .attr("x", (d, k) => x(k * 9 + 4)).attr("y", 687).attr("text-anchor", "middle")
  .attr("font-size", 12.5).attr("fill", "#000").text((d) => d);
tx.selectAll("text.month").data(monthNames).join("text")
  .attr("x", (d, i) => monthX(monthAt[i])).attr("y", 702).attr("text-anchor", "middle")
  .attr("font-size", 12.5).attr("fill", "#000").text((d) => d);

// footer
svg.append("text").attr("x", 1218).attr("y", 720).attr("font-size", 38).attr("font-style", "italic")
  .attr("fill", "#000").attr("opacity", 0.07).text("SmGroup");
svg.append("text").attr("x", 3).attr("y", 718).attr("font-size", 12.5).text(footer[0]);
svg.append("text").attr("x", 617).attr("y", 718).attr("font-size", 12.5).text(footer[1]);
svg.append("text").attr("x", 1351).attr("y", 718).attr("font-size", 12.5).attr("text-anchor", "end").text(footer[2]);
</script>
</body>
</html>
